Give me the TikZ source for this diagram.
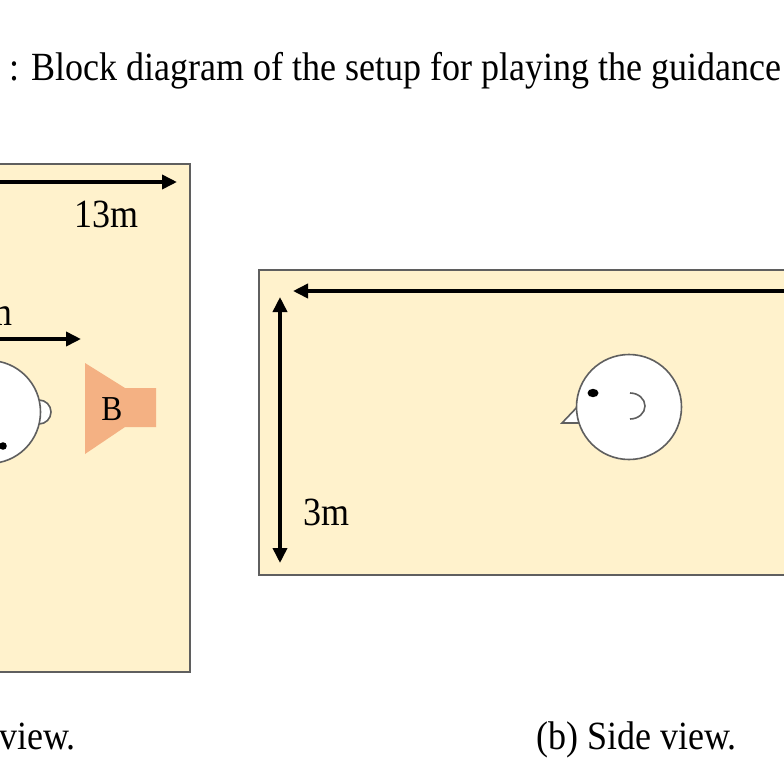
\documentclass[tikz,border=0pt]{standalone}
\usepackage{fontspec}
\setmainfont{Liberation Serif}[FakeStretch=0.9]
\usetikzlibrary{arrows.meta,positioning}
\definecolor{roomfill}{HTML}{FFF2CC}
\definecolor{roomline}{HTML}{5F5F5F}
\definecolor{speakerfill}{HTML}{F4B183}

\begin{document}
\begin{tikzpicture}[x=1pt, y=-1pt,
  room/.style={draw=roomline, line width=1.5pt, fill=roomfill},
  dimline/.style={line width=3.6pt, -{Triangle[length=15pt,width=14pt]}},
  head/.style={draw=roomline, line width=1.6pt, fill=white},
  label/.style={font=\fontsize{40}{44}\selectfont, inner sep=0pt}]
  \useasboundingbox (0,0) rectangle (784,758);
  \node[label, anchor=base west] (Caption) at (9,80) {: Block diagram of the setup for playing the guidance};  % Caption

  % (a) top view
  \draw[room] (-60,164) rectangle (190,672);
  \coordinate (Length-start) at (-60,182);
  \coordinate (Length-end) at (177,182);
  \draw[dimline] (Length-start) -- (Length-end);  % Room length
  \node[label, anchor=base] (Length-label) at (106,227) {13m};
  \coordinate (Dist-start) at (-60,339);
  \coordinate (Dist-end) at (81,339);
  \draw[dimline] (Dist-start) -- (Dist-end);  % Listener to speaker
  \node[label, anchor=base east] (Dist-label) at (13,325) {5m};
  \draw[head] (39,400) arc[start angle=-90, end angle=90, radius=12];  % Ear
  \node[head, circle, minimum size=103pt, inner sep=0pt] (Head-top) at (-11,412) {};  % Listener
  \fill (3,446) circle[radius=3.8];  % Eye
  \fill[speakerfill] (85,363) -- (125,388) -- (156,388) -- (156,427) -- (125,427) -- (85,454) -- cycle;  % Speaker
  \node[label, font=\fontsize{35}{38}\selectfont] (Speaker-B) at (112,409) {B};
  \node[label, anchor=base east] (Caption-a) at (76,749) {view.};

  % (b) side view
  \draw[room] (259,270) rectangle (840,575);
  \coordinate (Long-start) at (840,291);
  \coordinate (Long-end) at (293,291);
  \draw[dimline] (Long-start) -- (Long-end);  % Room length
  \coordinate (Height-top) at (280,297);
  \coordinate (Height-bottom) at (280,563);
  \draw[dimline, {Triangle[length=15pt,width=14pt]}-{Triangle[length=15pt,width=14pt]}] (Height-top) -- (Height-bottom);  % Room height
  \node[label, anchor=base west] (Height-label) at (303,525) {3m};
  \draw[head] (562,423) -- (581,403) -- (592,423) -- cycle;  % Nose
  \node[head, circle, minimum size=105pt, inner sep=0pt] (Head-side) at (629,407) {};  % Listener
  \fill (593,393) ellipse[x radius=5.5, y radius=4.2];  % Eye
  \draw[roomline, line width=1.6pt] (630,393) arc[start angle=-90, end angle=90, x radius=15, y radius=13];  % Ear
  \node[label, anchor=base west] (Caption-b) at (536,749) {(b) Side view.};
\end{tikzpicture}
\end{document}
